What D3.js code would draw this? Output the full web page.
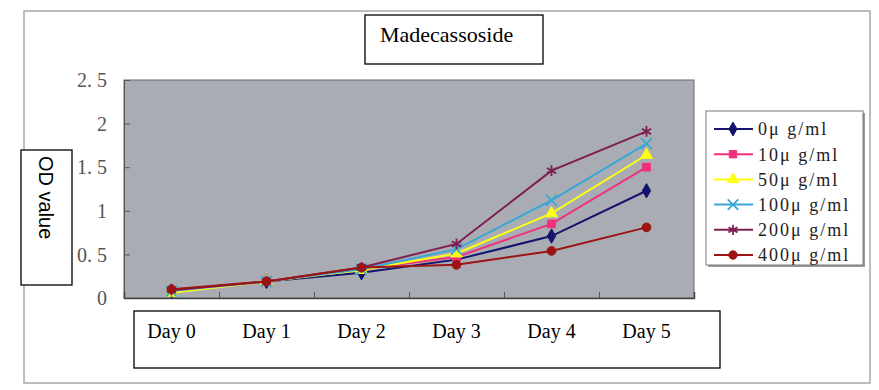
<!DOCTYPE html>
<html><head><meta charset="utf-8">
<script src="https://cdn.jsdelivr.net/npm/d3@7"></script>
<style>body{margin:0;background:#fff}svg{display:block}</style>
</head><body><svg id="c" width="879" height="390"></svg>
<script>
const days = ["Day 0","Day 1","Day 2","Day 3","Day 4","Day 5"];
const yTicks = [0, 0.5, 1, 1.5, 2, 2.5];
const yTickLabels = ["0","0. 5","1","1. 5","2","2. 5"];
const seriesNames = ["0μ g/ml","10μ g/ml","50μ g/ml","100μ g/ml","200μ g/ml","400μ g/ml"];
const v0   = [0.08, 0.19, 0.29, 0.44, 0.71, 1.23];
const v10  = [0.09, 0.19, 0.33, 0.47, 0.85, 1.50];
const v50  = [0.06, 0.19, 0.32, 0.51, 0.97, 1.64];
const v100 = [0.08, 0.19, 0.33, 0.56, 1.12, 1.77];
const v200 = [0.09, 0.19, 0.35, 0.62, 1.46, 1.91];
const v400 = [0.10, 0.19, 0.35, 0.38, 0.54, 0.81];
const seriesValues = [v0, v10, v50, v100, v200, v400];
const colors = ["#14146e","#f0307c","#ffff10","#3aa6d6","#7e1f52","#9c1414"];
const symbols = [d3.symbolDiamond, d3.symbolSquare, d3.symbolTriangle, d3.symbolTimes, d3.symbolAsterisk, d3.symbolCircle];
const strokeSym = [false,false,false,true,true,false];
const title = "Madecassoside";
const yTitle = "OD value";
const SERIF = "'Liberation Serif','Times New Roman',serif";

const svg = d3.select("#c");
svg.append("rect").attr("x",24).attr("y",11).attr("width",846).attr("height",372)
  .attr("fill","none").attr("stroke","#a8a8a8").attr("stroke-width",1.5);

const L=124, R=694, T=80, B=298;
const x = d3.scaleBand().domain(days).range([L,R]);
const y = d3.scaleLinear().domain([0,2.5]).range([B,T]);

svg.append("rect").attr("x",L).attr("y",T).attr("width",R-L).attr("height",B-T)
  .attr("fill","#a9adb3").attr("stroke","#6a6a6a").attr("stroke-width",1);

const ya = svg.append("g").attr("transform",`translate(${L},0)`)
  .call(d3.axisRight(y).tickValues(yTicks).tickSize(6).tickFormat(""));
ya.select(".domain").attr("stroke","#555");
ya.selectAll(".tick line").attr("stroke","#555");
svg.append("g").selectAll("text").data(yTicks).join("text")
  .attr("x",107).attr("y",d=>y(d)).attr("dy","0.36em").attr("text-anchor","end")
  .attr("font-family",SERIF).attr("font-size",20).attr("fill","#555")
  .text((d,i)=>yTickLabels[i]);

const xb = d3.scalePoint().domain(d3.range(days.length+1)).range([L,R]);
const xa = svg.append("g").attr("transform",`translate(0,${B})`)
  .call(d3.axisTop(xb).tickValues(d3.range(1,days.length)).tickSize(6).tickFormat(""));
xa.select(".domain").attr("stroke","#444").attr("stroke-width",1.5);
xa.selectAll(".tick line").attr("stroke","#555");

const line = d3.line().x((d,i)=>x(days[i])+x.bandwidth()/2).y(d=>y(d));
seriesValues.forEach((vals,s)=>{
  const g = svg.append("g");
  g.append("path").datum(vals).attr("d",line).attr("fill","none")
    .attr("stroke",colors[s]).attr("stroke-width",2);
  g.selectAll("path.m").data(vals).join("path").attr("class","m")
    .attr("transform",(d,i)=>`translate(${x(days[i])+x.bandwidth()/2},${y(d)})`)
    .attr("d",d3.symbol().type(symbols[s]).size(strokeSym[s]?80:60))
    .attr("fill",strokeSym[s]?"none":colors[s]).attr("stroke",colors[s]).attr("stroke-width",strokeSym[s]?1.8:1);
});

svg.append("rect").attr("x",365).attr("y",15).attr("width",178).attr("height",49)
  .attr("fill","#fff").attr("stroke","#000").attr("stroke-width",1.3);
svg.append("text").attr("x",380).attr("y",42).attr("font-family",SERIF)
  .attr("font-size",22).attr("fill","#000").text(title);

svg.append("rect").attr("x",21).attr("y",150).attr("width",51).attr("height",135)
  .attr("fill","#fff").attr("stroke","#000").attr("stroke-width",1.3);
svg.append("text").attr("transform","translate(39,156) rotate(90)")
  .attr("font-family","'Liberation Sans',Arial,sans-serif").attr("font-size",20).attr("fill","#000").text(yTitle);

svg.append("rect").attr("x",134).attr("y",311).attr("width",586).attr("height",57)
  .attr("fill","#fff").attr("stroke","#000").attr("stroke-width",1.3);
svg.append("g").selectAll("text").data(days).join("text")
  .attr("x",d=>x(d)+x.bandwidth()/2).attr("y",338).attr("text-anchor","middle")
  .attr("font-family",SERIF).attr("font-size",20).attr("fill","#000").text(d=>d);

svg.append("rect").attr("x",708).attr("y",113).attr("width",157).attr("height",154).attr("fill","#9a9a9a");
svg.append("rect").attr("x",706).attr("y",111).attr("width",157).attr("height",154)
  .attr("fill","#fff").attr("stroke","#777").attr("stroke-width",1);
const lg = svg.append("g").selectAll("g").data(seriesNames).join("g")
  .attr("transform",(d,i)=>`translate(0,${129+i*25.2})`);
lg.append("line").attr("x1",714).attr("x2",753).attr("y1",0).attr("y2",0)
  .attr("stroke",(d,i)=>colors[i]).attr("stroke-width",2);
lg.append("path").attr("transform","translate(733,0)")
  .attr("d",(d,i)=>d3.symbol().type(symbols[i]).size(strokeSym[i]?75:55)())
  .attr("fill",(d,i)=>strokeSym[i]?"none":colors[i]).attr("stroke",(d,i)=>colors[i]).attr("stroke-width",(d,i)=>strokeSym[i]?1.8:1);
lg.append("text").attr("x",758).attr("y",0).attr("dy","0.35em")
  .attr("font-family",SERIF).attr("font-size",18).attr("letter-spacing",2)
  .attr("fill","#222").text(d=>d.replace("μ","μ "));
</script></body></html>
